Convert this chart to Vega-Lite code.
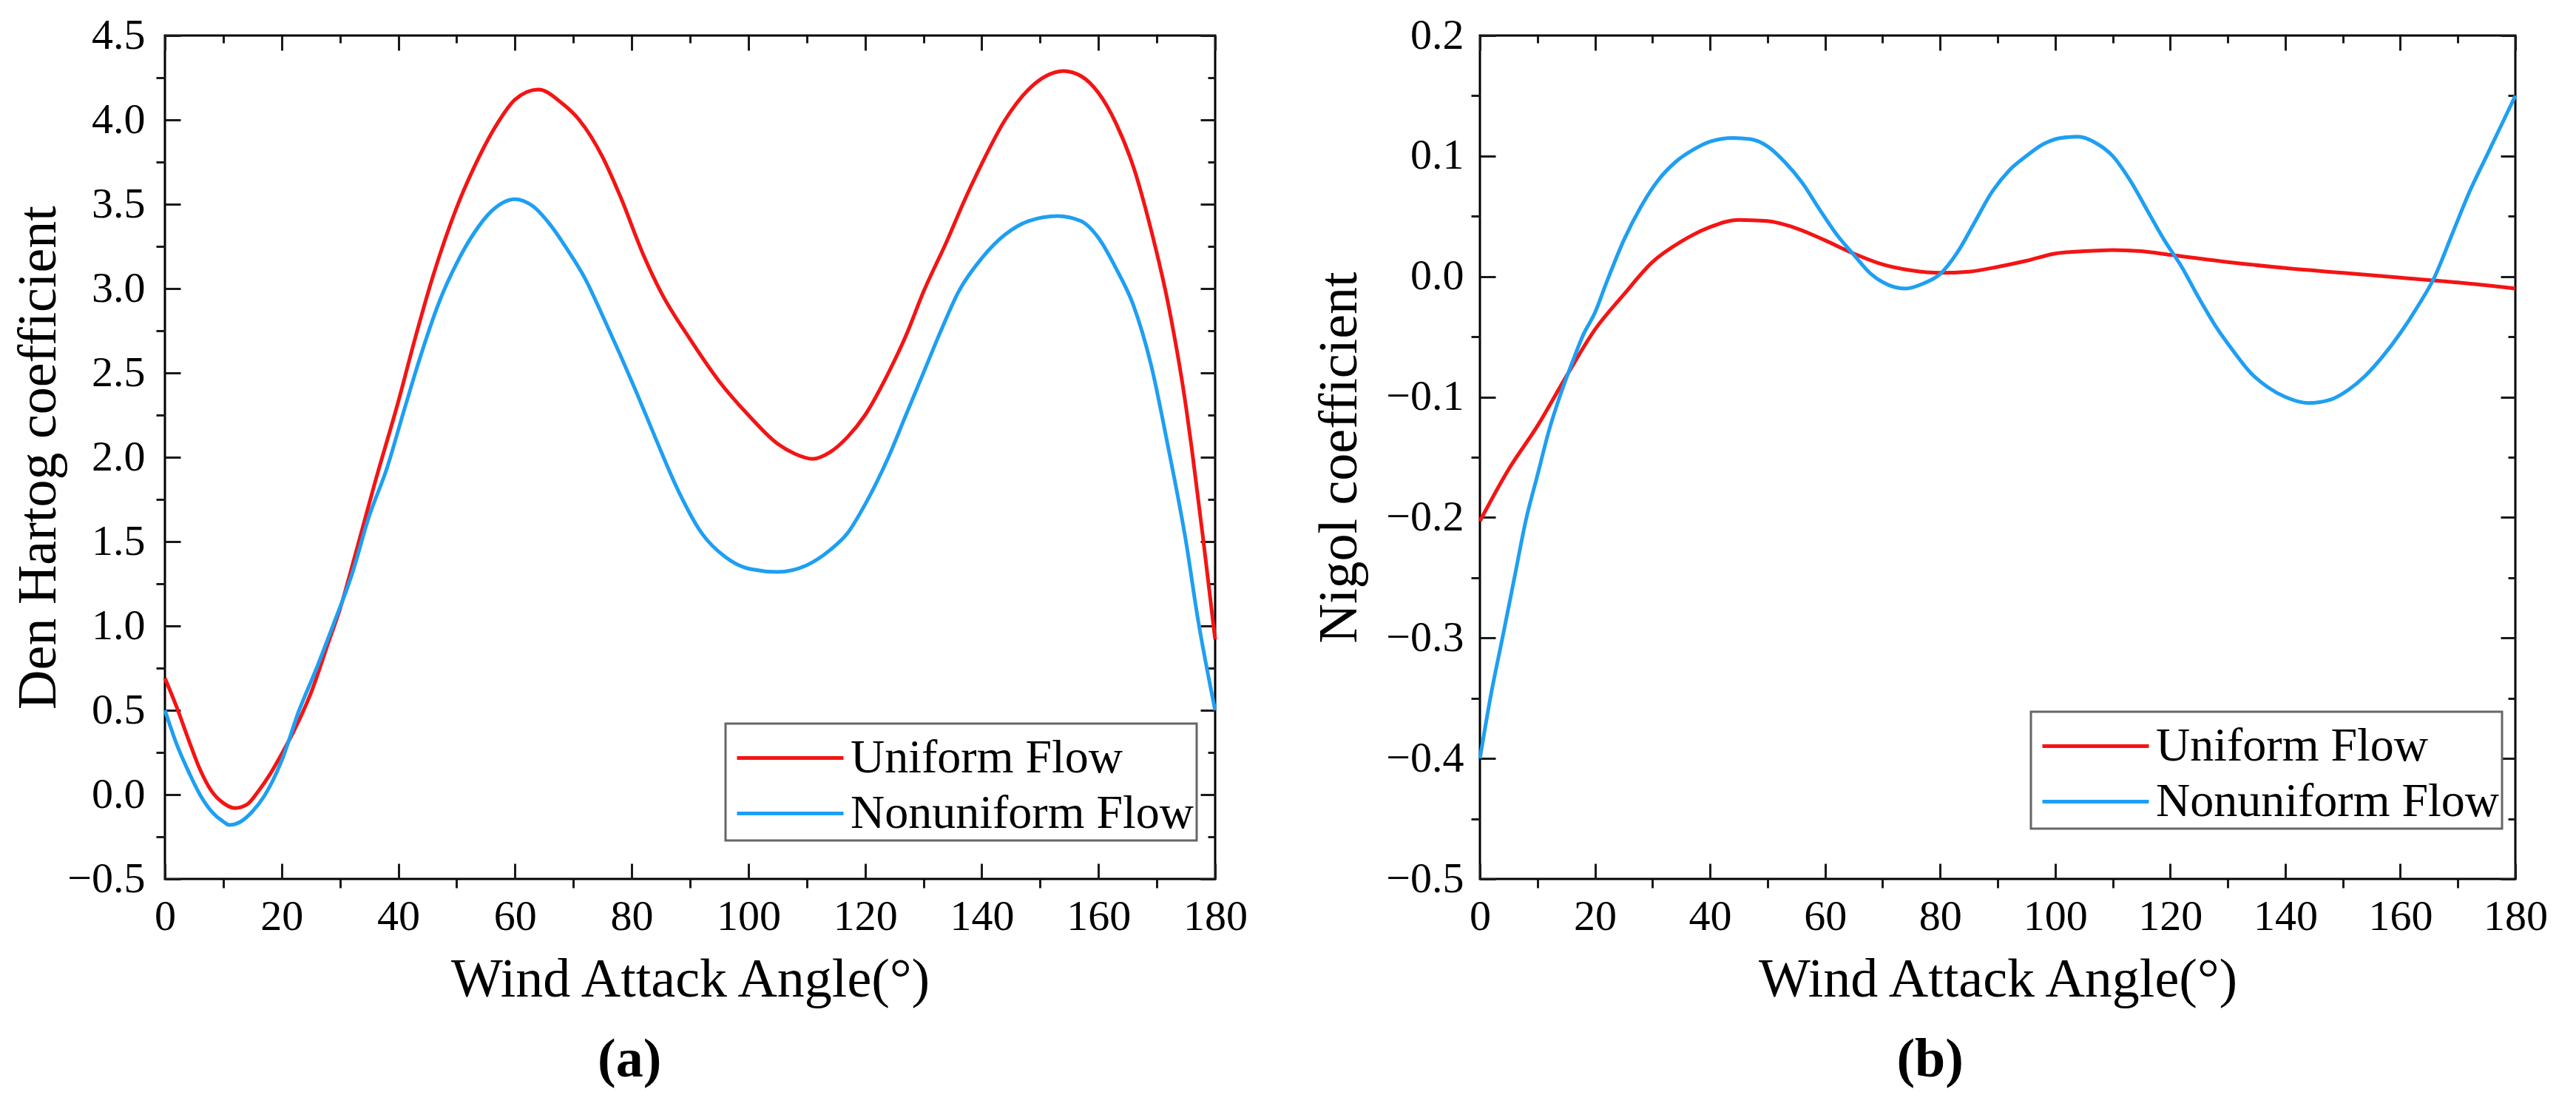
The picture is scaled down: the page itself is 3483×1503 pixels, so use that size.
{
  "$schema": "https://vega.github.io/schema/vega-lite/v6.json",
  "background": "white",
  "padding": {"left": 14, "top": 17, "right": 0, "bottom": 0},
  "datasets": {
    "den": [
      {"a": 0, "v": 0.69, "s": "Uniform Flow"}, {"a": 2, "v": 0.52, "s": "Uniform Flow"}, {"a": 4, "v": 0.33, "s": "Uniform Flow"},
      {"a": 6, "v": 0.15, "s": "Uniform Flow"}, {"a": 8, "v": 0.02, "s": "Uniform Flow"}, {"a": 10, "v": -0.05, "s": "Uniform Flow"},
      {"a": 12, "v": -0.08, "s": "Uniform Flow"}, {"a": 14, "v": -0.06, "s": "Uniform Flow"}, {"a": 16, "v": 0.02, "s": "Uniform Flow"},
      {"a": 18, "v": 0.12, "s": "Uniform Flow"}, {"a": 20, "v": 0.24, "s": "Uniform Flow"}, {"a": 22, "v": 0.37, "s": "Uniform Flow"},
      {"a": 25, "v": 0.6, "s": "Uniform Flow"}, {"a": 28, "v": 0.9, "s": "Uniform Flow"}, {"a": 30, "v": 1.1, "s": "Uniform Flow"},
      {"a": 33, "v": 1.47, "s": "Uniform Flow"}, {"a": 36, "v": 1.85, "s": "Uniform Flow"}, {"a": 40, "v": 2.33, "s": "Uniform Flow"},
      {"a": 43, "v": 2.72, "s": "Uniform Flow"}, {"a": 46, "v": 3.08, "s": "Uniform Flow"}, {"a": 50, "v": 3.48, "s": "Uniform Flow"},
      {"a": 53, "v": 3.72, "s": "Uniform Flow"}, {"a": 57, "v": 3.98, "s": "Uniform Flow"}, {"a": 60, "v": 4.12, "s": "Uniform Flow"},
      {"a": 64, "v": 4.18, "s": "Uniform Flow"}, {"a": 68, "v": 4.1, "s": "Uniform Flow"}, {"a": 71, "v": 4.0, "s": "Uniform Flow"},
      {"a": 75, "v": 3.78, "s": "Uniform Flow"}, {"a": 78, "v": 3.55, "s": "Uniform Flow"}, {"a": 82, "v": 3.2, "s": "Uniform Flow"},
      {"a": 85, "v": 2.98, "s": "Uniform Flow"}, {"a": 90, "v": 2.7, "s": "Uniform Flow"}, {"a": 95, "v": 2.45, "s": "Uniform Flow"},
      {"a": 100, "v": 2.25, "s": "Uniform Flow"}, {"a": 105, "v": 2.08, "s": "Uniform Flow"}, {"a": 108, "v": 2.02, "s": "Uniform Flow"},
      {"a": 111, "v": 1.99, "s": "Uniform Flow"}, {"a": 114, "v": 2.03, "s": "Uniform Flow"}, {"a": 117, "v": 2.12, "s": "Uniform Flow"},
      {"a": 120, "v": 2.25, "s": "Uniform Flow"},
      {"a": 124, "v": 2.5, "s": "Uniform Flow"}, {"a": 127, "v": 2.72, "s": "Uniform Flow"}, {"a": 130, "v": 2.98, "s": "Uniform Flow"},
      {"a": 134, "v": 3.28, "s": "Uniform Flow"}, {"a": 137, "v": 3.52, "s": "Uniform Flow"}, {"a": 140, "v": 3.74, "s": "Uniform Flow"},
      {"a": 144, "v": 4.0, "s": "Uniform Flow"}, {"a": 148, "v": 4.18, "s": "Uniform Flow"}, {"a": 151, "v": 4.26, "s": "Uniform Flow"},
      {"a": 154, "v": 4.29, "s": "Uniform Flow"}, {"a": 157, "v": 4.26, "s": "Uniform Flow"}, {"a": 160, "v": 4.16, "s": "Uniform Flow"},
      {"a": 163, "v": 3.98, "s": "Uniform Flow"}, {"a": 166, "v": 3.72, "s": "Uniform Flow"}, {"a": 169, "v": 3.35, "s": "Uniform Flow"},
      {"a": 172, "v": 2.9, "s": "Uniform Flow"}, {"a": 175, "v": 2.3, "s": "Uniform Flow"}, {"a": 176, "v": 2.05, "s": "Uniform Flow"},
      {"a": 178, "v": 1.5, "s": "Uniform Flow"}, {"a": 180, "v": 0.92, "s": "Uniform Flow"},
      {"a": 0, "v": 0.5, "s": "Nonuniform Flow"}, {"a": 2, "v": 0.3, "s": "Nonuniform Flow"}, {"a": 4, "v": 0.14, "s": "Nonuniform Flow"},
      {"a": 6, "v": 0.0, "s": "Nonuniform Flow"}, {"a": 8, "v": -0.1, "s": "Nonuniform Flow"}, {"a": 10, "v": -0.16, "s": "Nonuniform Flow"},
      {"a": 11, "v": -0.18, "s": "Nonuniform Flow"}, {"a": 13, "v": -0.16, "s": "Nonuniform Flow"}, {"a": 15, "v": -0.1, "s": "Nonuniform Flow"},
      {"a": 17, "v": -0.01, "s": "Nonuniform Flow"}, {"a": 20, "v": 0.2, "s": "Nonuniform Flow"}, {"a": 23, "v": 0.5, "s": "Nonuniform Flow"},
      {"a": 26, "v": 0.75, "s": "Nonuniform Flow"}, {"a": 29, "v": 1.02, "s": "Nonuniform Flow"}, {"a": 32, "v": 1.3, "s": "Nonuniform Flow"},
      {"a": 35, "v": 1.65, "s": "Nonuniform Flow"}, {"a": 38, "v": 1.93, "s": "Nonuniform Flow"}, {"a": 41, "v": 2.28, "s": "Nonuniform Flow"},
      {"a": 44, "v": 2.62, "s": "Nonuniform Flow"}, {"a": 47, "v": 2.92, "s": "Nonuniform Flow"}, {"a": 50, "v": 3.15, "s": "Nonuniform Flow"},
      {"a": 53, "v": 3.33, "s": "Nonuniform Flow"}, {"a": 56, "v": 3.46, "s": "Nonuniform Flow"}, {"a": 60, "v": 3.53, "s": "Nonuniform Flow"},
      {"a": 63, "v": 3.49, "s": "Nonuniform Flow"}, {"a": 66, "v": 3.38, "s": "Nonuniform Flow"}, {"a": 69, "v": 3.23, "s": "Nonuniform Flow"},
      {"a": 72, "v": 3.06, "s": "Nonuniform Flow"}, {"a": 75, "v": 2.84, "s": "Nonuniform Flow"}, {"a": 78, "v": 2.61, "s": "Nonuniform Flow"},
      {"a": 81, "v": 2.37, "s": "Nonuniform Flow"}, {"a": 84, "v": 2.12, "s": "Nonuniform Flow"}, {"a": 88, "v": 1.8, "s": "Nonuniform Flow"},
      {"a": 92, "v": 1.55, "s": "Nonuniform Flow"}, {"a": 96, "v": 1.41, "s": "Nonuniform Flow"}, {"a": 100, "v": 1.34, "s": "Nonuniform Flow"},
      {"a": 105, "v": 1.32, "s": "Nonuniform Flow"},
      {"a": 110, "v": 1.36, "s": "Nonuniform Flow"}, {"a": 114, "v": 1.45, "s": "Nonuniform Flow"}, {"a": 117, "v": 1.55, "s": "Nonuniform Flow"},
      {"a": 120, "v": 1.72, "s": "Nonuniform Flow"}, {"a": 124, "v": 2.0, "s": "Nonuniform Flow"}, {"a": 127, "v": 2.25, "s": "Nonuniform Flow"},
      {"a": 130, "v": 2.5, "s": "Nonuniform Flow"}, {"a": 133, "v": 2.75, "s": "Nonuniform Flow"}, {"a": 136, "v": 2.98, "s": "Nonuniform Flow"},
      {"a": 140, "v": 3.18, "s": "Nonuniform Flow"}, {"a": 144, "v": 3.32, "s": "Nonuniform Flow"}, {"a": 148, "v": 3.4, "s": "Nonuniform Flow"},
      {"a": 153, "v": 3.43, "s": "Nonuniform Flow"}, {"a": 157, "v": 3.4, "s": "Nonuniform Flow"}, {"a": 160, "v": 3.3, "s": "Nonuniform Flow"},
      {"a": 163, "v": 3.12, "s": "Nonuniform Flow"}, {"a": 166, "v": 2.9, "s": "Nonuniform Flow"}, {"a": 169, "v": 2.55, "s": "Nonuniform Flow"},
      {"a": 172, "v": 2.05, "s": "Nonuniform Flow"}, {"a": 175, "v": 1.5, "s": "Nonuniform Flow"}, {"a": 177, "v": 1.05, "s": "Nonuniform Flow"},
      {"a": 180, "v": 0.5, "s": "Nonuniform Flow"}
    ],
    "nig": [
      {"a": 0, "v": -0.203, "s": "Uniform Flow"}, {"a": 5, "v": -0.16, "s": "Uniform Flow"}, {"a": 10, "v": -0.124, "s": "Uniform Flow"},
      {"a": 15, "v": -0.083, "s": "Uniform Flow"}, {"a": 20, "v": -0.044, "s": "Uniform Flow"}, {"a": 25, "v": -0.015, "s": "Uniform Flow"},
      {"a": 30, "v": 0.012, "s": "Uniform Flow"}, {"a": 35, "v": 0.029, "s": "Uniform Flow"}, {"a": 40, "v": 0.041, "s": "Uniform Flow"},
      {"a": 45, "v": 0.047, "s": "Uniform Flow"}, {"a": 50, "v": 0.046, "s": "Uniform Flow"}, {"a": 55, "v": 0.04, "s": "Uniform Flow"},
      {"a": 60, "v": 0.03, "s": "Uniform Flow"}, {"a": 65, "v": 0.019, "s": "Uniform Flow"}, {"a": 70, "v": 0.01, "s": "Uniform Flow"},
      {"a": 75, "v": 0.005, "s": "Uniform Flow"}, {"a": 80, "v": 0.003, "s": "Uniform Flow"}, {"a": 85, "v": 0.004, "s": "Uniform Flow"},
      {"a": 90, "v": 0.008, "s": "Uniform Flow"}, {"a": 95, "v": 0.013, "s": "Uniform Flow"}, {"a": 100, "v": 0.019, "s": "Uniform Flow"},
      {"a": 105, "v": 0.021, "s": "Uniform Flow"}, {"a": 110, "v": 0.022, "s": "Uniform Flow"}, {"a": 115, "v": 0.021, "s": "Uniform Flow"},
      {"a": 120, "v": 0.018, "s": "Uniform Flow"}, {"a": 130, "v": 0.012, "s": "Uniform Flow"}, {"a": 140, "v": 0.007, "s": "Uniform Flow"},
      {"a": 150, "v": 0.003, "s": "Uniform Flow"}, {"a": 160, "v": -0.001, "s": "Uniform Flow"}, {"a": 170, "v": -0.005, "s": "Uniform Flow"},
      {"a": 180, "v": -0.01, "s": "Uniform Flow"},
      {"a": 0, "v": -0.4, "s": "Nonuniform Flow"}, {"a": 2, "v": -0.345, "s": "Nonuniform Flow"}, {"a": 4, "v": -0.298, "s": "Nonuniform Flow"},
      {"a": 6, "v": -0.25, "s": "Nonuniform Flow"}, {"a": 8, "v": -0.202, "s": "Nonuniform Flow"}, {"a": 10, "v": -0.165, "s": "Nonuniform Flow"},
      {"a": 12, "v": -0.128, "s": "Nonuniform Flow"}, {"a": 14, "v": -0.098, "s": "Nonuniform Flow"}, {"a": 16, "v": -0.072, "s": "Nonuniform Flow"},
      {"a": 18, "v": -0.048, "s": "Nonuniform Flow"}, {"a": 20, "v": -0.03, "s": "Nonuniform Flow"}, {"a": 22, "v": -0.005, "s": "Nonuniform Flow"},
      {"a": 25, "v": 0.03, "s": "Nonuniform Flow"}, {"a": 28, "v": 0.058, "s": "Nonuniform Flow"}, {"a": 31, "v": 0.08, "s": "Nonuniform Flow"},
      {"a": 34, "v": 0.095, "s": "Nonuniform Flow"}, {"a": 37, "v": 0.105, "s": "Nonuniform Flow"}, {"a": 40, "v": 0.112, "s": "Nonuniform Flow"},
      {"a": 44, "v": 0.115, "s": "Nonuniform Flow"}, {"a": 47, "v": 0.114, "s": "Nonuniform Flow"}, {"a": 50, "v": 0.108, "s": "Nonuniform Flow"},
      {"a": 53, "v": 0.095, "s": "Nonuniform Flow"}, {"a": 56, "v": 0.078, "s": "Nonuniform Flow"}, {"a": 59, "v": 0.056, "s": "Nonuniform Flow"},
      {"a": 62, "v": 0.035, "s": "Nonuniform Flow"}, {"a": 65, "v": 0.018, "s": "Nonuniform Flow"}, {"a": 68, "v": 0.002, "s": "Nonuniform Flow"},
      {"a": 71, "v": -0.007, "s": "Nonuniform Flow"}, {"a": 74, "v": -0.01, "s": "Nonuniform Flow"}, {"a": 77, "v": -0.006, "s": "Nonuniform Flow"},
      {"a": 80, "v": 0.002, "s": "Nonuniform Flow"}, {"a": 83, "v": 0.02, "s": "Nonuniform Flow"}, {"a": 86, "v": 0.045, "s": "Nonuniform Flow"},
      {"a": 89, "v": 0.07, "s": "Nonuniform Flow"}, {"a": 92, "v": 0.088, "s": "Nonuniform Flow"}, {"a": 95, "v": 0.1, "s": "Nonuniform Flow"},
      {"a": 98, "v": 0.11, "s": "Nonuniform Flow"}, {"a": 101, "v": 0.115, "s": "Nonuniform Flow"}, {"a": 104, "v": 0.116, "s": "Nonuniform Flow"},
      {"a": 107, "v": 0.111, "s": "Nonuniform Flow"}, {"a": 110, "v": 0.1, "s": "Nonuniform Flow"}, {"a": 113, "v": 0.08, "s": "Nonuniform Flow"},
      {"a": 116, "v": 0.055, "s": "Nonuniform Flow"}, {"a": 119, "v": 0.03, "s": "Nonuniform Flow"}, {"a": 122, "v": 0.008, "s": "Nonuniform Flow"},
      {"a": 125, "v": -0.018, "s": "Nonuniform Flow"}, {"a": 128, "v": -0.042, "s": "Nonuniform Flow"}, {"a": 131, "v": -0.062, "s": "Nonuniform Flow"},
      {"a": 134, "v": -0.08, "s": "Nonuniform Flow"}, {"a": 137, "v": -0.092, "s": "Nonuniform Flow"}, {"a": 140, "v": -0.1, "s": "Nonuniform Flow"},
      {"a": 144, "v": -0.105, "s": "Nonuniform Flow"}, {"a": 148, "v": -0.102, "s": "Nonuniform Flow"}, {"a": 151, "v": -0.094, "s": "Nonuniform Flow"},
      {"a": 154, "v": -0.082, "s": "Nonuniform Flow"}, {"a": 157, "v": -0.066, "s": "Nonuniform Flow"}, {"a": 160, "v": -0.047, "s": "Nonuniform Flow"},
      {"a": 163, "v": -0.025, "s": "Nonuniform Flow"}, {"a": 166, "v": 0.0, "s": "Nonuniform Flow"}, {"a": 169, "v": 0.035, "s": "Nonuniform Flow"},
      {"a": 172, "v": 0.07, "s": "Nonuniform Flow"}, {"a": 175, "v": 0.1, "s": "Nonuniform Flow"}, {"a": 178, "v": 0.13, "s": "Nonuniform Flow"},
      {"a": 180, "v": 0.15, "s": "Nonuniform Flow"}
    ]
  },
  "spacing": 85,
  "resolve": {"scale": {"color": "independent"}},
  "hconcat": [
    {
      "width": 1420,
      "height": 1140,
      "data": {"name": "den"},
      "title": {"text": "(a)", "orient": "bottom", "anchor": "middle", "frame": "bounds", "font": "Liberation Serif", "fontSize": 74, "fontWeight": "bold", "color": "#000", "offset": 36},
      "layer": [
        {
          "mark": {"type": "line", "strokeWidth": 5, "interpolate": "monotone"},
          "encoding": {
            "x": {"field": "a", "type": "quantitative", "scale": {"domain": [0, 180], "nice": false, "zero": false},
              "axis": {"orient": "bottom", "values": [0, 20, 40, 60, 80, 100, 120, 140, 160, 180], "ticks": false, "labelFlush": false, "labelPadding": 22, "title": "Wind Attack Angle(°)", "titlePadding": 20}},
            "y": {"field": "v", "type": "quantitative", "scale": {"domain": [-0.5, 4.5], "nice": false, "zero": false},
              "axis": {"orient": "left", "values": [-0.5, 0, 0.5, 1, 1.5, 2, 2.5, 3, 3.5, 4, 4.5], "format": ".1f", "ticks": false, "labelFlush": false, "labelPadding": 27, "title": "Den Hartog coefficient", "titlePadding": 0}},
            "color": {"field": "s", "type": "nominal", "scale": {"domain": ["Uniform Flow", "Nonuniform Flow"], "range": ["#F41414", "#1E9FF2"]},
              "legend": {"title": null, "orient": "none", "legendX": 758, "legendY": 930}}
          }
        },
        {
          "mark": {"type": "point", "opacity": 0},
          "encoding": {
            "x": {"field": "a", "type": "quantitative", "axis": {"orient": "bottom", "values": [0, 20, 40, 60, 80, 100, 120, 140, 160, 180], "labels": false, "title": null, "tickSize": -21}},
            "y": {"field": "v", "type": "quantitative", "axis": {"orient": "left", "values": [-0.5, 0, 0.5, 1, 1.5, 2, 2.5, 3, 3.5, 4, 4.5], "labels": false, "title": null, "tickSize": -21}}
          }
        },
        {
          "mark": {"type": "point", "opacity": 0},
          "encoding": {
            "x": {"field": "a", "type": "quantitative", "axis": {"orient": "bottom", "values": [10, 30, 50, 70, 90, 110, 130, 150, 170], "labels": false, "title": null, "tickSize": 12}},
            "y": {"field": "v", "type": "quantitative", "axis": {"orient": "left", "values": [-0.25, 0.25, 0.75, 1.25, 1.75, 2.25, 2.75, 3.25, 3.75, 4.25], "labels": false, "title": null, "tickSize": 12}}
          }
        },
        {
          "mark": {"type": "point", "opacity": 0},
          "encoding": {
            "x": {"field": "a", "type": "quantitative", "axis": {"orient": "top", "values": [0, 20, 40, 60, 80, 100, 120, 140, 160, 180], "labels": false, "title": null, "tickSize": -20}},
            "y": {"field": "v", "type": "quantitative", "axis": {"orient": "right", "values": [-0.5, 0, 0.5, 1, 1.5, 2, 2.5, 3, 3.5, 4, 4.5], "labels": false, "title": null, "tickSize": -20}}
          }
        },
        {
          "mark": {"type": "point", "opacity": 0},
          "encoding": {
            "x": {"field": "a", "type": "quantitative", "axis": {"orient": "top", "values": [10, 30, 50, 70, 90, 110, 130, 150, 170], "labels": false, "title": null, "tickSize": -10}},
            "y": {"field": "v", "type": "quantitative", "axis": {"orient": "right", "values": [-0.25, 0.25, 0.75, 1.25, 1.75, 2.25, 2.75, 3.25, 3.75, 4.25], "labels": false, "title": null, "tickSize": -10}}
          }
        }
      ],
      "resolve": {"axis": {"x": "independent", "y": "independent"}}
    },
    {
      "width": 1400,
      "height": 1140,
      "data": {"name": "nig"},
      "title": {"text": "(b)", "orient": "bottom", "anchor": "middle", "frame": "bounds", "font": "Liberation Serif", "fontSize": 74, "fontWeight": "bold", "color": "#000", "offset": 36},
      "layer": [
        {
          "mark": {"type": "line", "strokeWidth": 5, "interpolate": "monotone"},
          "encoding": {
            "x": {"field": "a", "type": "quantitative", "scale": {"domain": [0, 180], "nice": false, "zero": false},
              "axis": {"orient": "bottom", "values": [0, 20, 40, 60, 80, 100, 120, 140, 160, 180], "ticks": false, "labelFlush": false, "labelPadding": 22, "title": "Wind Attack Angle(°)", "titlePadding": 20}},
            "y": {"field": "v", "type": "quantitative", "scale": {"domain": [-0.5, 0.2], "nice": false, "zero": false},
              "axis": {"orient": "left", "values": [-0.5, -0.4, -0.3, -0.2, -0.1, 0, 0.1, 0.2], "format": ".1f", "ticks": false, "labelFlush": false, "labelPadding": 22, "title": "Nigol coefficient", "titlePadding": 24}},
            "color": {"field": "s", "type": "nominal", "scale": {"domain": ["Uniform Flow", "Nonuniform Flow"], "range": ["#F41414", "#1E9FF2"]},
              "legend": {"title": null, "orient": "none", "legendX": 745, "legendY": 914}}
          }
        },
        {
          "mark": {"type": "point", "opacity": 0},
          "encoding": {
            "x": {"field": "a", "type": "quantitative", "axis": {"orient": "bottom", "values": [0, 20, 40, 60, 80, 100, 120, 140, 160, 180], "labels": false, "title": null, "tickSize": -21}},
            "y": {"field": "v", "type": "quantitative", "axis": {"orient": "left", "values": [-0.5, -0.4, -0.3, -0.2, -0.1, 0, 0.1, 0.2], "labels": false, "title": null, "tickSize": -21}}
          }
        },
        {
          "mark": {"type": "point", "opacity": 0},
          "encoding": {
            "x": {"field": "a", "type": "quantitative", "axis": {"orient": "bottom", "values": [10, 30, 50, 70, 90, 110, 130, 150, 170], "labels": false, "title": null, "tickSize": 12}},
            "y": {"field": "v", "type": "quantitative", "axis": {"orient": "left", "values": [-0.45, -0.35, -0.25, -0.15, -0.05, 0.05, 0.15], "labels": false, "title": null, "tickSize": 12}}
          }
        },
        {
          "mark": {"type": "point", "opacity": 0},
          "encoding": {
            "x": {"field": "a", "type": "quantitative", "axis": {"orient": "top", "values": [0, 20, 40, 60, 80, 100, 120, 140, 160, 180], "labels": false, "title": null, "tickSize": -20}},
            "y": {"field": "v", "type": "quantitative", "axis": {"orient": "right", "values": [-0.5, -0.4, -0.3, -0.2, -0.1, 0, 0.1, 0.2], "labels": false, "title": null, "tickSize": -20}}
          }
        },
        {
          "mark": {"type": "point", "opacity": 0},
          "encoding": {
            "x": {"field": "a", "type": "quantitative", "axis": {"orient": "top", "values": [10, 30, 50, 70, 90, 110, 130, 150, 170], "labels": false, "title": null, "tickSize": -10}},
            "y": {"field": "v", "type": "quantitative", "axis": {"orient": "right", "values": [-0.45, -0.35, -0.25, -0.15, -0.05, 0.05, 0.15], "labels": false, "title": null, "tickSize": -10}}
          }
        }
      ],
      "resolve": {"axis": {"x": "independent", "y": "independent"}}
    }
  ],
  "config": {
    "view": {"stroke": "#000", "strokeWidth": 3},
    "axis": {"grid": false, "domain": false, "labelFont": "Liberation Serif", "titleFont": "Liberation Serif", "labelColor": "#000", "titleColor": "#000", "tickColor": "#1a1a1a", "tickWidth": 3, "titleFontWeight": "normal", "labelFontSize": 58, "titleFontSize": 74},
    "legend": {"symbolType": "M-1.8,0L1.8,0", "symbolSize": 6400, "symbolOffset": 41, "symbolStrokeWidth": 5, "labelFont": "Liberation Serif", "labelFontSize": 64, "labelColor": "#000", "labelOffset": 39, "labelLimit": 0, "rowPadding": 0, "padding": 4, "strokeColor": "#666", "fillColor": "#fff", "strokeWidth": 3}
  }
}
